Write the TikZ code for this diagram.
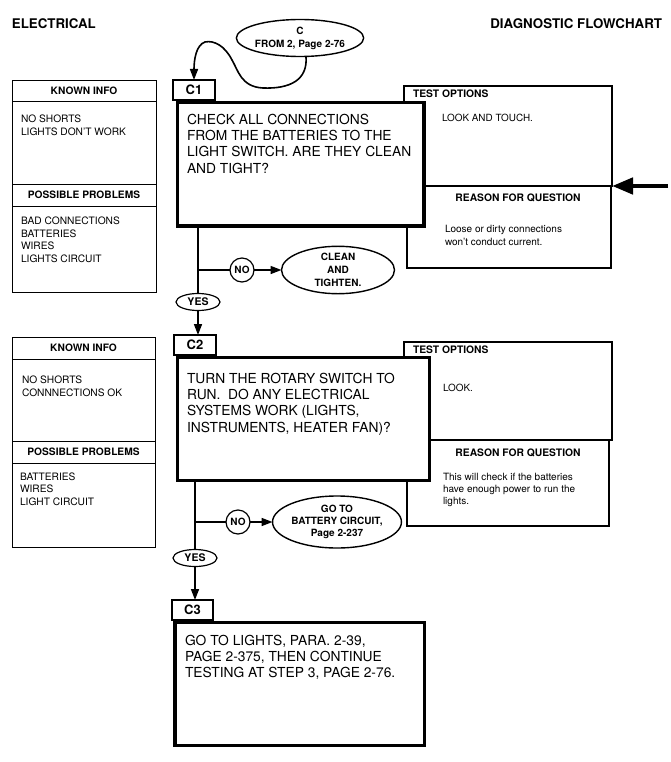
\documentclass[tikz,border=0pt]{standalone}
\usepackage{fontspec}
\setmainfont{TeX Gyre Heros}
\usetikzlibrary{shapes.geometric,arrows.meta}

\begin{document}
\begin{tikzpicture}[x=1pt,y=-1pt,
  every node/.style={outer sep=0pt},
  corner/.style={anchor=north west,inner sep=0pt},
  mainbox/.style={corner,draw,line width=3.8pt,fill=white},
  labbox/.style={corner,draw,line width=1.2pt,fill=white,font=\fontsize{13}{15}\bfseries\selectfont},
  infobox/.style={corner,draw,line width=0.9pt},
  infohead/.style={corner,draw,line width=0.9pt,font=\fontsize{10.2}{12}\bfseries\selectfont},
  testbox/.style={corner,draw,line width=2pt,fill=white},
  reasonbox/.style={corner,draw,line width=1.1pt,fill=white},
  maintext/.style={corner,align=left,font=\fontsize{13.8}{16.3}\selectfont},
  infotext/.style={corner,align=left},
  smallhead/.style={inner sep=0pt,font=\fontsize{10.3}{12}\bfseries\selectfont},
  bubble/.style={ellipse,draw,line width=1.4pt,fill=white,align=center,inner sep=0pt,font=\fontsize{10}{13}\bfseries\selectfont},
  nocirc/.style={circle,draw,line width=1.2pt,fill=white,inner sep=0pt,minimum size=24pt,font=\fontsize{10}{12}\bfseries\selectfont},
  yesell/.style={ellipse,draw,line width=1.2pt,fill=white,inner sep=0pt,minimum width=44pt,minimum height=17pt,font=\fontsize{10.5}{12}\bfseries\selectfont},
  flow/.style={line width=1.6pt},
  tip/.style={-{Triangle[length=11pt,width=8pt]}}
]
\useasboundingbox (0,0) rectangle (670,762);

% page headings
\node[anchor=west,inner sep=0pt,font=\fontsize{13.3}{15}\bfseries\selectfont] (hl) at (12,24) {ELECTRICAL};
\node[anchor=east,inner sep=0pt,font=\fontsize{13.3}{15}\bfseries\selectfont] (hr) at (662,24) {DIAGNOSTIC FLOWCHART};

% entry bubble
\node[bubble,minimum width=124pt,minimum height=37pt] (entry) at (300,38) {C\\FROM 2, Page 2-76};

% ================= C1 =================
\node[infobox,minimum width=144pt,minimum height=212pt] (k1) at (12,80) {};
\node[infohead,minimum width=144pt,minimum height=21pt] (k1h) at (12,80) {KNOWN INFO};
\node[infohead,minimum width=144pt,minimum height=22pt] (p1h) at (12,184) {POSSIBLE PROBLEMS};
\node[infotext,font=\fontsize{10.2}{13}\selectfont] (k1t) at (21,114.4) {NO SHORTS\\LIGHTS DON'T WORK};
\node[infotext,font=\fontsize{10.2}{12.4}\selectfont] (p1t) at (21,217.3) {BAD CONNECTIONS\\BATTERIES\\WIRES\\LIGHTS CIRCUIT};

\node[reasonbox,minimum width=204pt,minimum height=82pt] (r1) at (407,186) {};
\node[testbox,minimum width=208pt,minimum height=100pt] (t1) at (404,86) {};
\node[smallhead,anchor=west] (t1h) at (413,94) {TEST OPTIONS};
\node[anchor=west,inner sep=0pt,font=\fontsize{9.9}{12}\selectfont] (t1t) at (442,118) {LOOK AND TOUCH.};
\node[smallhead] (r1h) at (518,198) {REASON FOR QUESTION};
\node[infotext,font=\fontsize{10}{13}\selectfont] (r1t) at (445,225.4) {Loose or dirty connections\\won't conduct current.};

\node[mainbox,minimum width=246.5pt,minimum height=123.5pt] (c1) at (177.5,102.5) {};
\node[labbox,minimum width=42pt,minimum height=20pt] (c1lab) at (173,80) {C1};
\node[maintext] (c1t) at (187,114) {CHECK ALL CONNECTIONS\\FROM THE BATTERIES TO THE\\LIGHT SWITCH. ARE THEY CLEAN\\AND TIGHT?};

\coordinate (a1) at (668,186);
\draw[line width=4.5pt,-{Triangle[length=21pt,width=16pt]}] (a1) -- (t1.south east);

\draw[flow,tip] (entry.-72) .. controls (308,80) and (290,89) .. (263,88)
  .. controls (241,87) and (238,70) .. (232,60)
  .. controls (225,46) and (214,40) .. (205,42)
  .. controls (196,45) and (194,60) .. (c1lab.north);

\node[yesell] (y1) at (198,302) {YES};
\node[nocirc] (n1) at (242,270) {NO};
\node[bubble,minimum width=113pt,minimum height=46pt] (clean) at (338,270) {CLEAN\\AND\\TIGHTEN.};
\draw[flow] (y1 |- c1.south) -- (y1);
\draw[flow] (y1 |- n1) -- (n1);
\draw[flow,tip] (n1) -- (clean);

% ================= C2 =================
\node[infobox,minimum width=143pt,minimum height=210pt] (k2) at (12,337) {};
\node[infohead,minimum width=143pt,minimum height=22pt] (k2h) at (12,337) {KNOWN INFO};
\node[infohead,minimum width=143pt,minimum height=22pt] (p2h) at (12,441) {POSSIBLE PROBLEMS};
\node[infotext,font=\fontsize{10.2}{13.5}\selectfont] (k2t) at (22,375.4) {NO SHORTS\\CONNNECTIONS OK};
\node[infotext,font=\fontsize{10.2}{12.5}\selectfont] (p2t) at (20,472.4) {BATTERIES\\WIRES\\LIGHT CIRCUIT};

\node[reasonbox,minimum width=202pt,minimum height=86pt] (r2) at (407,440) {};
\node[testbox,minimum width=208pt,minimum height=98pt] (t2) at (404,342) {};
\node[smallhead,anchor=west] (t2h) at (413,349.5) {TEST OPTIONS};
\node[anchor=west,inner sep=0pt,font=\fontsize{9.9}{12}\selectfont] (t2t) at (443,388) {LOOK.};
\node[smallhead] (r2h) at (518,453) {REASON FOR QUESTION};
\node[infotext,font=\fontsize{10}{11.8}\selectfont] (r2t) at (443,473.3) {This will check if the batteries\\have enough power to run the\\lights.};

\node[mainbox,minimum width=252pt,minimum height=123pt] (c2) at (177.5,357.5) {};
\node[labbox,minimum width=42pt,minimum height=20pt] (c2lab) at (174,335) {C2};
\node[maintext] (c2t) at (187,373) {TURN THE ROTARY SWITCH TO\\RUN.\ \ DO ANY ELECTRICAL\\SYSTEMS WORK (LIGHTS,\\INSTRUMENTS, HEATER FAN)?};

\draw[flow,tip] (y1) -- (y1 |- c2lab.north);

\node[yesell] (y2) at (195,558) {YES};
\node[nocirc] (n2) at (238,522) {NO};
\node[bubble,minimum width=117pt,minimum height=52pt,font=\fontsize{10}{12}\bfseries\selectfont] (batt) at (337,522) {GO TO\\BATTERY CIRCUIT,\\Page 2-237};
\draw[flow] (y2 |- c2.south) -- (y2);
\draw[flow] (y2 |- n2) -- (n2);
\draw[flow,tip] (n2) -- (batt);

% ================= C3 =================
\node[mainbox,minimum width=249.5pt,minimum height=123pt] (c3) at (175,622.5) {};
\node[labbox,minimum width=41pt,minimum height=20pt] (c3lab) at (172,600) {C3};
\node[maintext] (c3t) at (185,635) {GO TO LIGHTS, PARA. 2-39,\\PAGE 2-375, THEN CONTINUE\\TESTING AT STEP 3, PAGE 2-76.};

\draw[flow,tip] (y2) -- (y2 |- c3lab.north);
\end{tikzpicture}
\end{document}
